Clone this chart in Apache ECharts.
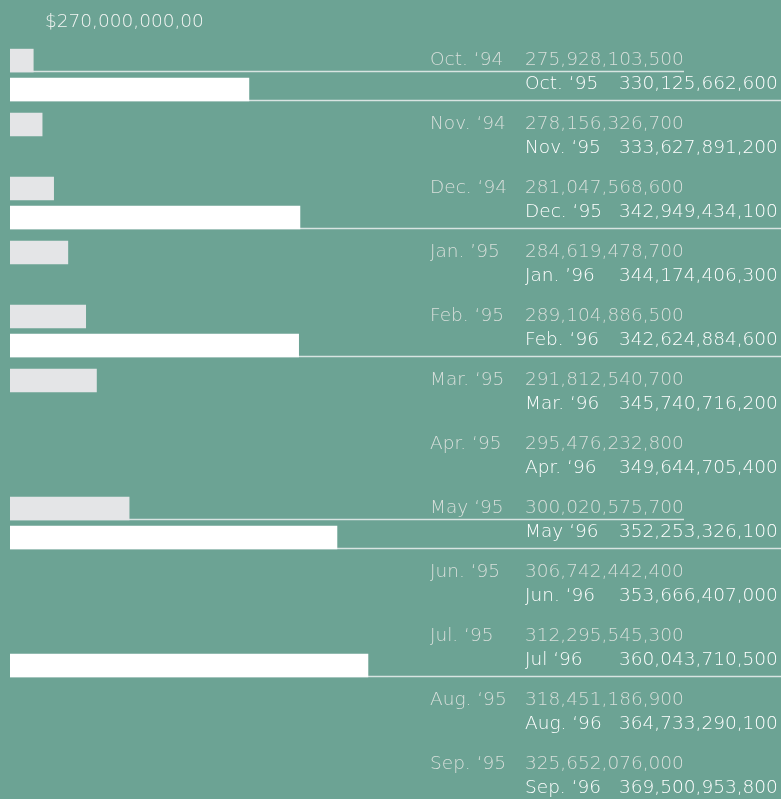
<!DOCTYPE html>
<html>
<head>
  <meta charset="utf-8">
  <title>chart</title>
  <script src="https://cdn.jsdelivr.net/npm/echarts@6/dist/echarts.min.js"></script>
  <style>
    html, body { margin: 0; padding: 0; background: #6ca394; }
    #main { width: 781px; height: 799px; }
  </style>
</head>
<body>
  <div id="main"></div>
  <script type="text/javascript">
    // data
    var months = ['Oct', 'Nov', 'Dec', 'Jan', 'Feb', 'Mar', 'Apr', 'May', 'Jun', 'Jul', 'Aug', 'Sep'];
    var labelsA = ['Oct. \u201894', 'Nov. \u201894', 'Dec. \u201894', 'Jan. \u201995', 'Feb. \u201895', 'Mar. \u201895',
                   'Apr. \u201895', 'May \u201895', 'Jun. \u201895', 'Jul. \u201895', 'Aug. \u201895', 'Sep. \u201895'];
    var labelsB = ['Oct. \u201895', 'Nov. \u201895', 'Dec. \u201895', 'Jan. \u201996', 'Feb. \u201896', 'Mar. \u201896',
                   'Apr. \u201896', 'May \u201896', 'Jun. \u201896', 'Jul \u201896', 'Aug. \u201896', 'Sep. \u201896'];
    var valuesA = [275928103500, 278156326700, 281047568600, 284619478700, 289104886500, 291812540700,
                   295476232800, 300020575700, 306742442400, 312295545300, 318451186900, 325652076000];
    var valuesB = [330125662600, 333627891200, 342949434100, 344174406300, 342624884600, 345740716200,
                   349644705400, 352253326100, 353666407000, 360043710500, 364733290100, 369500953800];
    // which bars / rules the original actually shows
    var shownA = [1, 1, 1, 1, 1, 1, 0, 1, 0, 0, 0, 0];
    var shownB = [1, 0, 1, 0, 1, 0, 0, 1, 0, 1, 0, 0];
    var ruleA  = [1, 0, 0, 0, 0, 0, 0, 1, 0, 0, 0, 0];
    var ruleB  = [1, 0, 1, 0, 1, 0, 0, 1, 0, 1, 0, 0];
    var axisMin = 270;   // billions
    var axisMax = 460;
    var tickLabel = '$270,000,000,00';

    var FONT = 'DejaVu Sans';
    var grayText = '#d8dfdb';
    var whiteText = '#ffffff';

    function fmt(v) { return v.toLocaleString('en-US'); }

    function barData(vals, shown) {
      return vals.map(function (v, i) {
        return { value: v / 1e9, itemStyle: { opacity: shown[i] ? 1 : 0 } };
      });
    }

    var chart = echarts.init(document.getElementById('main'));

    var option = {
      backgroundColor: '#6ca394',
      animation: false,
      title: {
        text: tickLabel,
        left: 45, top: 13, padding: 0,
        textStyle: { color: '#f2f5f3', fontFamily: FONT, fontWeight: 200, fontSize: 18.5 }
      },
      // grid runs a little past the bottom edge, like the original
      grid: { left: 10, top: 43, width: 756, height: 768, outerBoundsMode: 'none', containLabel: false },
      xAxis: { type: 'value', min: axisMin, max: axisMax, show: false },
      yAxis: { type: 'category', data: months, inverse: true, show: false },
      series: [
        {
          name: 'prev', type: 'bar', barWidth: 23.5, barGap: '23%',
          itemStyle: { color: '#e4e5e7' },
          data: barData(valuesA, shownA), z: 3
        },
        {
          name: 'curr', type: 'bar', barWidth: 23.5,
          itemStyle: { color: '#ffffff' },
          data: barData(valuesB, shownB), z: 3
        },
        {
          type: 'custom', clip: false, z: 2,
          data: months.map(function (m, i) { return [axisMin, i]; }),
          renderItem: function (params, api) {
            var i = params.dataIndex;
            var c = api.coord([axisMin, i]);
            var x0 = c[0], yc = c[1];
            var kids = [];
            if (ruleA[i]) {
              kids.push({ type: 'line', shape: { x1: x0, y1: yc - 3.5, x2: 684, y2: yc - 3.5 },
                          style: { stroke: 'rgba(235,240,238,0.85)', lineWidth: 1.3 } });
            }
            if (ruleB[i]) {
              kids.push({ type: 'line', shape: { x1: x0, y1: yc + 25.5, x2: 781, y2: yc + 25.5 },
                          style: { stroke: 'rgba(235,240,238,0.85)', lineWidth: 1.3 } });
            }
            var ts = function (txt, x, y, col) {
              return { type: 'text', z2: 10, style: { text: txt, x: x, y: y, fill: col,
                       font: '200 18.5px "' + FONT + '"', textVerticalAlign: 'middle' } };
            };
            kids.push(ts(labelsA[i], 430, yc - 15, grayText));
            kids.push(ts(fmt(valuesA[i]), 525, yc - 15, grayText));
            kids.push(ts(labelsB[i], 525, yc + 9, whiteText));
            kids.push(ts(fmt(valuesB[i]), 619, yc + 9, whiteText));
            return { type: 'group', children: kids };
          }
        }
      ]
    };
    chart.setOption(option);
  </script>
</body>
</html>
